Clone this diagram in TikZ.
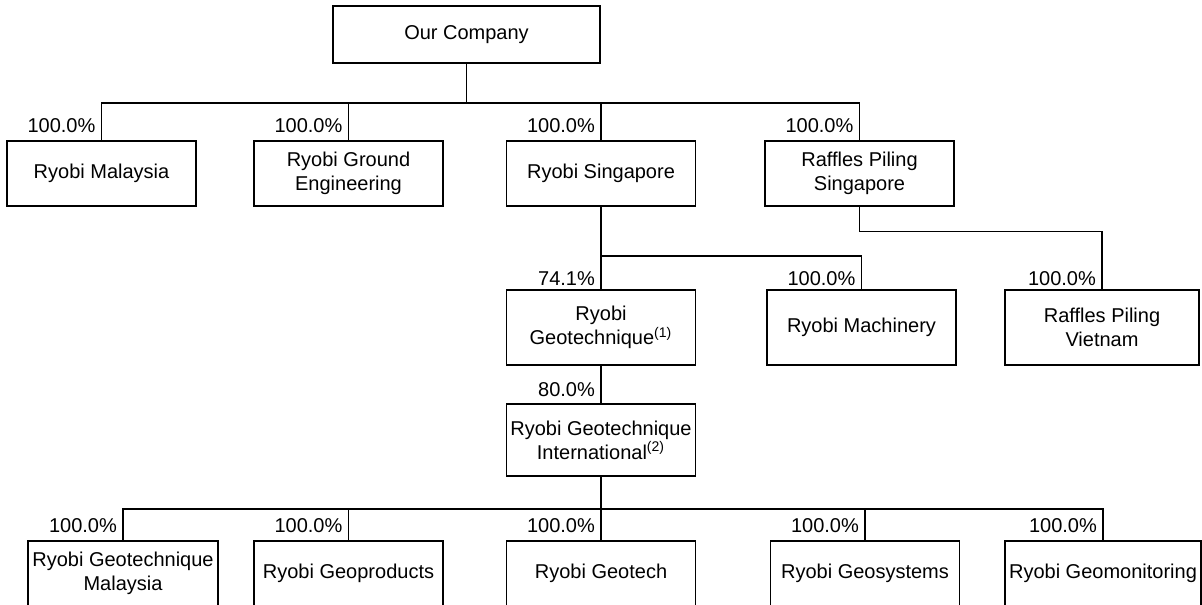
\documentclass[tikz,border=0pt]{standalone}
\usepackage{fontspec}
\setmainfont{Liberation Sans}
\usepackage{tikz}

\begin{document}
\begin{tikzpicture}[x=0.5pt,y=-0.5pt,line width=0.65pt,
    box/.style={draw, align=center, inner sep=1pt, minimum width=94.5pt,
      minimum height=32.5pt, font=\fontsize{10}{12}\selectfont},
    pct/.style={anchor=base east, inner sep=0pt, font=\fontsize{10}{12}\selectfont}]
    \path[use as bounding box, clip] (0,0) rectangle (1202,604);

    \node[box, minimum width=133.5pt, minimum height=28.5pt] (co) at (466.5,34.5) {Our Company};
    \node[box] (rm) at (101.5,173.5) {Ryobi Malaysia};
    \node[box] (rge) at (348.5,173.5) {Ryobi Ground\\Engineering};
    \node[box] (rs) at (601,173.5) {Ryobi Singapore};
    \node[box] (rps) at (859.5,173.5) {Raffles Piling\\Singapore};

    \node[box, minimum height=37.5pt] (rg) at (601,327.5) {Ryobi\\Geotechnique\textsuperscript{(1)}};
    \node[box, minimum height=37.5pt] (rmc) at (861.5,327.5) {Ryobi Machinery};
    \node[box, minimum height=37.5pt, minimum width=97pt] (rpv) at (1102,327.5) {Raffles Piling\\Vietnam};

    \node[box, minimum height=36pt] (rgi) at (601,440) {Ryobi Geotechnique\\International\textsuperscript{(2)}};

    \node[box, minimum width=95pt] (rgm) at (123,573.5) {Ryobi Geotechnique\\Malaysia};
    \node[box] (rgp) at (348.5,573.5) {Ryobi Geoproducts};
    \node[box] (rgt) at (601,573.5) {Ryobi Geotech};
    \node[box] (rgs) at (865,573.5) {Ryobi Geosystems};
    \node[box, minimum width=98pt] (rgmo) at (1103,573.5) {Ryobi Geomonitoring};

    \coordinate (b1) at (466.5,103);
    \coordinate (b2) at (601,256);
    \coordinate (b3) at (601,509);

    \draw (co) -- (b1);
    \draw (b1) -| (rm);
    \draw (b1) -| (rge);
    \draw (b1) -| (rs);
    \draw (b1) -| (rps);

    \draw (rs) -- (b2);
    \draw (b2) -- (rg);
    \draw (b2) -| (rmc);
    \draw (rps.south) -- ++(0,25) -| (rpv);

    \draw (rg) -- (rgi);
    \draw (rgi) -- (b3);
    \draw (b3) -| (rgm);
    \draw (b3) -| (rgp);
    \draw (b3) -- (rgt);
    \draw (b3) -| (rgs);
    \draw (b3) -| (rgmo);

    \node[pct] (p1) at ([xshift=-2.75pt,yshift=4pt]rm.north) {100.0\%};
    \node[pct] (p2) at ([xshift=-2.75pt,yshift=4pt]rge.north) {100.0\%};
    \node[pct] (p3) at ([xshift=-2.75pt,yshift=4pt]rs.north) {100.0\%};
    \node[pct] (p4) at ([xshift=-2.75pt,yshift=4pt]rps.north) {100.0\%};
    \node[pct] (p5) at ([xshift=-2.75pt,yshift=2pt]rg.north) {74.1\%};
    \node[pct] (p6) at ([xshift=-2.75pt,yshift=2pt]rmc.north) {100.0\%};
    \node[pct] (p7) at ([xshift=-2.75pt,yshift=2pt]rpv.north) {100.0\%};
    \node[pct] (p8) at ([xshift=-2.75pt,yshift=3.5pt]rgi.north) {80.0\%};
    \node[pct] (p9) at ([xshift=-2.75pt,yshift=4pt]rgm.north) {100.0\%};
    \node[pct] (p10) at ([xshift=-2.75pt,yshift=4pt]rgp.north) {100.0\%};
    \node[pct] (p11) at ([xshift=-2.75pt,yshift=4pt]rgt.north) {100.0\%};
    \node[pct] (p12) at ([xshift=-2.75pt,yshift=4pt]rgs.north) {100.0\%};
    \node[pct] (p13) at ([xshift=-2.75pt,yshift=4pt]rgmo.north) {100.0\%};
\end{tikzpicture}
\end{document}
